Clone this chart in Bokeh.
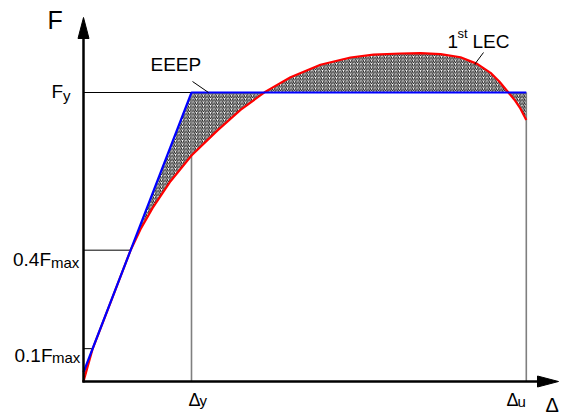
import numpy as np
from bokeh.plotting import figure
from bokeh.core.properties import value
from bokeh.embed import file_html
from bokeh.resources import INLINE

# First load-excursion curve (1st LEC): displacement vs. force / Fy
delta_lec = [0.0, 0.83, 2.5, 4.35, 5.28, 6.39, 8.06, 10.0, 12.41, 14.54,
             16.85, 19.17, 21.94, 24.72, 26.85, 29.35, 31.2, 33.06, 34.91,
             36.45, 37.69, 38.5, 39.23, 39.9, 40.46, 41.0]
force_lec = [0.0, 0.111, 0.273, 0.453, 0.527, 0.600, 0.693, 0.782, 0.869,
             0.940, 1.003, 1.053, 1.096, 1.121, 1.131, 1.135, 1.136, 1.133,
             1.122, 1.099, 1.068, 1.038, 1.005, 0.975, 0.944, 0.905]

# Equivalent energy elastic-plastic (EEEP) curve
delta_y = 10.0
delta_u = 41.0
force_y = 1.0
force_0 = 0.032
delta_eeep = [0.0, delta_y, delta_u]
force_eeep = [force_0, force_y, force_y]

f_max = max(force_lec)
f_01 = 0.1 * f_max
f_04 = 0.4 * f_max

# screen geometry of the frame (origin position and pixels per unit)
X0_PX, Y0_PX = 83.0, 381.0
KX, KY = 10.8, 289.0
W, H = 561, 419


def dx(px):
    return (px - X0_PX) / KX


def dy(py):
    return (Y0_PX - py) / KY


p = figure(width=W, height=H, x_range=(dx(0), dx(W)), y_range=(dy(H), dy(0)),
           x_axis_type=None, y_axis_type=None, output_backend="svg",
           toolbar_location=None, min_border=0, outline_line_color=None,
           background_fill_color="white", border_fill_color="white")
p.grid.visible = False

# hatched area between the two curves
dl = np.array(delta_lec)
fl = np.array(force_lec)
fe = np.interp(dl, delta_eeep, force_eeep)
p.varea(x=dl, y1=fl, y2=fe, fill_color="white", fill_alpha=1.0,
        hatch_pattern="/", hatch_color="black", hatch_scale=3.5,
        hatch_weight=0.9, hatch_alpha=1.0)

# guide lines
grey = "#7f7f7f"
p.line([delta_y, delta_y], [0, force_y], line_color=grey, line_width=1.6)
p.line([delta_u, delta_u], [0, force_y], line_color=grey, line_width=1.6)
p.line([0, delta_y], [force_y, force_y], line_color="black", line_width=1)
rise = slice(0, int(np.argmax(fl)) + 1)
d04 = float(np.interp(f_04, fl[rise], dl[rise]))
d01 = float(np.interp(f_01, fl[rise], dl[rise]))
p.line([0, d04], [f_04, f_04], line_color="black", line_width=1)
p.line([0, d01], [f_01, f_01], line_color="black", line_width=1)

# curves
p.line(delta_lec, force_lec, line_color="#ff0000", line_width=2.2,
       line_join="round")
p.line(delta_eeep, force_eeep, line_color="#0000ff", line_width=2.2)

# axes with arrow heads
p.line([0, 0], [dy(Y0_PX + 1), dy(38)], line_color="black", line_width=2.5)
p.patch([dx(77.5), dx(88.5), 0], [dy(38), dy(38), dy(17)], fill_color="black",
        line_color="black", line_width=1)
p.line([dx(X0_PX - 1), dx(540)], [0, 0], line_color="black", line_width=2.5)
p.patch([dx(537), dx(537), dx(558)], [dy(375.5), dy(386.5), 0],
        fill_color="black", line_color="black", line_width=1)

# leader lines
p.line([dx(192), dx(208)], [dy(81), dy(92)], line_color="black", line_width=1)
p.line([dx(483), dx(474)], [dy(52), dy(64)], line_color="black", line_width=1)

font = value("Liberation Sans")
SHIFT = 9  # baseline correction for the svg text placement


def label(px, py, txt, size):
    p.text(x=[dx(px)], y=[dy(py - SHIFT)], text=[txt], text_font=font,
           text_font_size=size, text_align="left",
           text_baseline="alphabetic", text_color="black")


label(47, 28, "F", "25px")
label(545, 413, "Δ", "20px")

label(51, 100, "F", "19px")
label(62.5, 104, "y", "15px")

label(12.5, 268, "0.4F", "19px")
label(50.5, 270.5, "max", "15px")
label(14, 364, "0.1F", "19px")
label(51.5, 366, "max", "15px")

label(188, 408, "Δ", "18px")
label(199, 409, "y", "15px")
label(506, 408, "Δ", "18px")
label(517, 410, "u", "15px")

label(150, 73, "EEEP", "19px")
label(447, 50, "1", "19px")
label(457, 42, "st", "13px")
label(472, 50, "LEC", "19px")

open("out.html", "w").write(file_html(p, INLINE))
